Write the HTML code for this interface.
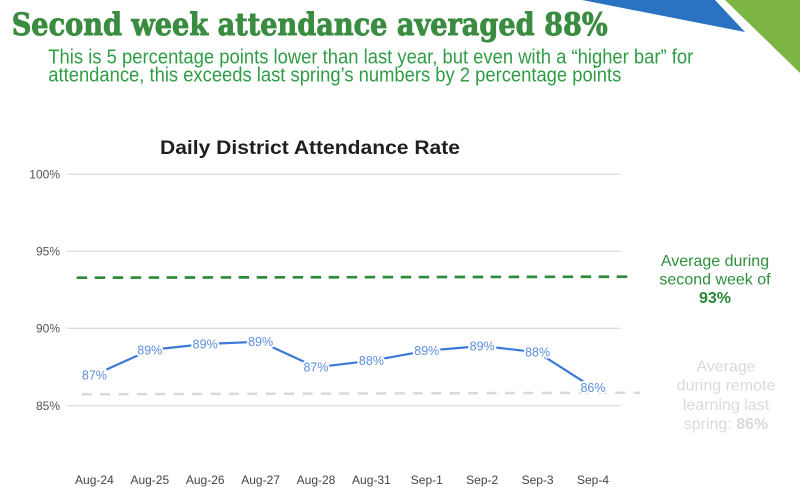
<!DOCTYPE html>
<html>
<head>
<meta charset="utf-8">
<style>
html,body{margin:0;padding:0;background:#fff;}
svg{display:block;}
</style>
</head>
<body>
<svg width="800" height="503" viewBox="0 0 800 503" xmlns="http://www.w3.org/2000/svg">
  <rect width="800" height="503" fill="#ffffff"/>
  <!-- decorative triangles -->
  <polygon points="582,0 715,0 745,32" fill="#2a72c2"/>
  <polygon points="725,0 800,0 800,73" fill="#7cb544"/>

  <!-- headline -->
  <text x="11.7" y="35" style="font-family:'DejaVu Serif','Liberation Serif',serif" font-weight="bold" font-size="31" fill="#3a8c40" stroke="#3a8c40" stroke-width="0.9" textLength="596" lengthAdjust="spacingAndGlyphs">Second week attendance averaged 88%</text>
  <text x="48.3" y="63.3" font-family="Liberation Sans, sans-serif" font-size="20" fill="#2f9c46" textLength="645" lengthAdjust="spacingAndGlyphs">This is 5 percentage points lower than last year, but even with a “higher bar” for</text>
  <text x="48.3" y="81.7" font-family="Liberation Sans, sans-serif" font-size="20" fill="#2f9c46" textLength="573" lengthAdjust="spacingAndGlyphs">attendance, this exceeds last spring’s numbers by 2 percentage points</text>

  <!-- chart title -->
  <text x="160" y="154" font-family="Liberation Sans, sans-serif" font-weight="bold" font-size="19" fill="#1f1f1f" textLength="300" lengthAdjust="spacingAndGlyphs">Daily District Attendance Rate</text>

  <!-- gridlines -->
  <g stroke="#d3d3d3" stroke-width="1">
    <line x1="66.7" y1="174.3" x2="620.7" y2="174.3"/>
    <line x1="66.7" y1="251.3" x2="620.7" y2="251.3"/>
    <line x1="66.7" y1="328.3" x2="620.7" y2="328.3"/>
    <line x1="66.7" y1="405.8" x2="620.7" y2="405.8"/>
  </g>
  <!-- y labels -->
  <g font-family="Liberation Sans, sans-serif" font-size="12" fill="#555" text-anchor="end">
    <text x="60" y="178.5">100%</text>
    <text x="60" y="255.5">95%</text>
    <text x="60" y="332.5">90%</text>
    <text x="60" y="410">85%</text>
  </g>

  <!-- reference dashed lines -->
  <line x1="76.7" y1="277.7" x2="629" y2="276.7" stroke="#2e8b3a" stroke-width="2.7" stroke-dasharray="10.5 7.5"/>
  <line x1="81.7" y1="394.3" x2="640" y2="392.7" stroke="#d9d9d9" stroke-width="2.5" stroke-dasharray="10 8.4"/>

  <!-- series line -->
  <polyline fill="none" stroke="#3b78d8" stroke-width="2.2" stroke-linejoin="round"
    points="94.4,375 149.8,350 205.2,344 260.6,341.7 316,367.3 371.4,360.7 426.8,350.7 482.2,346 537.6,352.3 593,387.7"/>
  <!-- data labels -->
  <g font-family="Liberation Sans, sans-serif" font-size="12.5" fill="#5a8fdc" text-anchor="middle" stroke="#ffffff" stroke-width="4" paint-order="stroke" stroke-linejoin="round">
    <text x="94.4" y="379.3">87%</text>
    <text x="149.8" y="354.3">89%</text>
    <text x="205.2" y="348.3">89%</text>
    <text x="260.6" y="346">89%</text>
    <text x="316" y="371.6">87%</text>
    <text x="371.4" y="365">88%</text>
    <text x="426.8" y="355">89%</text>
    <text x="482.2" y="350.3">89%</text>
    <text x="537.6" y="356.6">88%</text>
    <text x="593" y="392">86%</text>
  </g>

  <!-- x labels -->
  <g font-family="Liberation Sans, sans-serif" font-size="12" fill="#444" text-anchor="middle">
    <text x="94.4" y="484">Aug-24</text>
    <text x="149.8" y="484">Aug-25</text>
    <text x="205.2" y="484">Aug-26</text>
    <text x="260.6" y="484">Aug-27</text>
    <text x="316" y="484">Aug-28</text>
    <text x="371.4" y="484">Aug-31</text>
    <text x="426.8" y="484">Sep-1</text>
    <text x="482.2" y="484">Sep-2</text>
    <text x="537.6" y="484">Sep-3</text>
    <text x="593" y="484">Sep-4</text>
  </g>

  <!-- annotations -->
  <g font-family="Liberation Sans, sans-serif" font-size="16" fill="#2f8f3c" text-anchor="middle">
    <text x="715" y="266">Average during</text>
    <text x="715" y="284.5">second week of</text>
    <text x="715" y="303" font-weight="bold" fill="#2a8536">93%</text>
  </g>
  <g font-family="Liberation Sans, sans-serif" font-size="16" fill="#dadada" text-anchor="middle">
    <text x="726" y="371.7">Average</text>
    <text x="726" y="390.7">during remote</text>
    <text x="726" y="410">learning last</text>
    <text x="726" y="429">spring:  <tspan font-weight="bold">86%</tspan></text>
  </g>
</svg>
</body>
</html>
